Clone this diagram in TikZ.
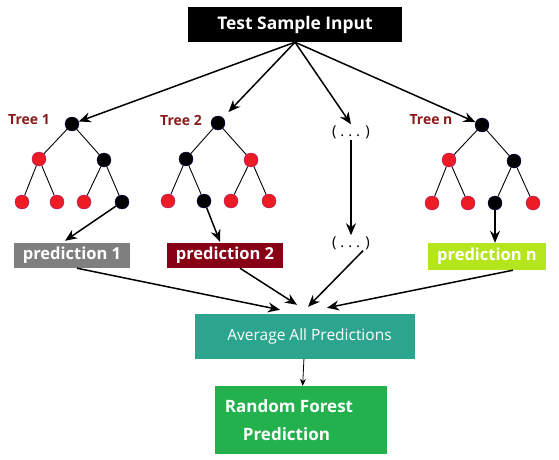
\documentclass[tikz,border=0pt]{standalone}
\usepackage{fontspec}
\setmainfont{Open Sans}
\usetikzlibrary{arrows.meta,calc}
\definecolor{TreeRed}{HTML}{ED1C24}
\definecolor{LabelRed}{HTML}{8B1A1A}
\definecolor{PredGray}{HTML}{7F7F7F}
\definecolor{PredMaroon}{HTML}{880015}
\definecolor{PredLime}{HTML}{B5E61D}
\definecolor{AvgTeal}{HTML}{2CA58F}
\definecolor{ForestGreen}{HTML}{22B14C}

\begin{document}
\begin{tikzpicture}[x=1pt,y=-1pt, every node/.style={font=\fontsize{15}{17}\selectfont},
  rn/.style={circle,fill=TreeRed,draw=TreeRed!70!blue,inner sep=0pt,minimum size=14pt},
  bn/.style={circle,fill=black,draw=black!70!blue,inner sep=0pt,minimum size=14pt},
  edge/.style={line width=0.9pt},
  flow/.style={-{Stealth[length=12pt,width=10pt]},line width=1.5pt},
  predbox/.style={text=white,font=\bfseries\fontsize{16.5}{18}\selectfont,inner sep=0pt,minimum height=25pt,minimum width=116pt},
  treelabel/.style={text=LabelRed,font=\bfseries\fontsize{14}{16}\selectfont}]
\useasboundingbox (0,0) rectangle (559,460);
% input
\node[fill=black,text=white,font=\bfseries\fontsize{17.4}{19}\selectfont,minimum width=214pt,minimum height=35pt,inner sep=0pt] (input) at (295,24.5) {Test Sample Input};
% tree 1
\node[treelabel] (lab1) at (29,120) {Tree 1};
\node[bn] (t1r) at (72,124) {};
\node[rn] (t1a) at (39,159) {};
\node[bn] (t1b) at (104,160) {};
\node[rn] (t1c) at (22,202) {};
\node[rn] (t1d) at (57,202) {};
\node[rn] (t1e) at (84,202) {};
\node[bn] (t1f) at (122,202) {};
\draw[edge] (t1r)--(t1a) (t1r)--(t1b) (t1a)--(t1c) (t1a)--(t1d) (t1b)--(t1e) (t1b)--(t1f);
% tree 2
\node[treelabel] (lab2) at (181,120) {Tree 2};
\node[bn] (t2r) at (218,123) {};
\node[bn] (t2a) at (186,159) {};
\node[rn] (t2b) at (251,160) {};
\node[rn] (t2c) at (168,201) {};
\node[bn] (t2d) at (204,201) {};
\node[rn] (t2e) at (231,201) {};
\node[rn] (t2f) at (269,201) {};
\draw[edge] (t2r)--(t2a) (t2r)--(t2b) (t2a)--(t2c) (t2a)--(t2d) (t2b)--(t2e) (t2b)--(t2f);
% tree n
\node[treelabel] (labn) at (431,120) {Tree n};
\node[bn] (tnr) at (482,125) {};
\node[rn] (tna) at (449,160) {};
\node[bn] (tnb) at (514,161) {};
\node[rn] (tnc) at (432,203) {};
\node[rn] (tnd) at (468,203) {};
\node[bn] (tne) at (495,203) {};
\node[rn] (tnf) at (533,203) {};
\draw[edge] (tnr)--(tna) (tnr)--(tnb) (tna)--(tnc) (tna)--(tnd) (tnb)--(tne) (tnb)--(tnf);
% dots
\node[inner sep=1pt] (dots1) at (351,132) {( .\ .\ . )};
\node[inner sep=1pt] (dots2) at (351,243) {( .\ .\ . )};
% predictions
\node[predbox,fill=PredGray] (p1) at (72,255.5) {prediction 1};
\node[predbox,fill=PredMaroon] (p2) at (225,255.5) {prediction 2};
\node[predbox,fill=PredLime,minimum width=118pt,minimum height=27pt] (pn) at (487,256.5) {prediction n};
% average and result
\node[fill=AvgTeal,text=white,font=\fontsize{15.5}{18}\selectfont,minimum width=220pt,minimum height=45pt,inner sep=0pt] (avg) at (305,336.5) {\hspace{9pt}Average All Predictions};
\node[fill=ForestGreen,text=white,font=\bfseries\fontsize{17}{28}\selectfont,align=left,minimum width=172pt,minimum height=68pt,inner sep=0pt] (rf) at (301,420) {Random Forest\hspace*{24pt}\\\hspace*{18pt}Prediction};
% arrows
\draw[flow] (input.south)--(t1r);
\draw[flow,shorten >=8pt] (input.south)--(t2r);
\draw[flow] (input.south)--(dots1.north);
\draw[flow] (input.south)--(tnr);
\draw[flow] (t1f)--($(p1.north)+(-7,-2)$);
\draw[flow] (t2d)--($(p2.north)+(-5,-1)$);
\draw[flow] (tne)--(tne|-pn.north);
\draw[flow] (dots1.south)--(dots2.north);
\coordinate (in1) at ($(avg.north)+(-25,-4)$);
\coordinate (in2) at ($(avg.north)+(-8,-9)$);
\coordinate (in3) at ($(avg.north)+(3,-7)$);
\coordinate (in4) at ($(avg.north)+(22,-6)$);
\draw[flow] ($(p1.south)+(5,0)$)--(in1);
\draw[flow] ($(p2.south)+(15,0)$)--(in2);
\draw[flow] ($(dots2.south)+(12,0)$)--(in3);
\draw[flow] ($(pn.south)+(26,0)$)--(in4);
\draw[-{Stealth[length=7pt,width=6pt]},line width=0.8pt] (avg)--(rf);
\end{tikzpicture}
\end{document}
